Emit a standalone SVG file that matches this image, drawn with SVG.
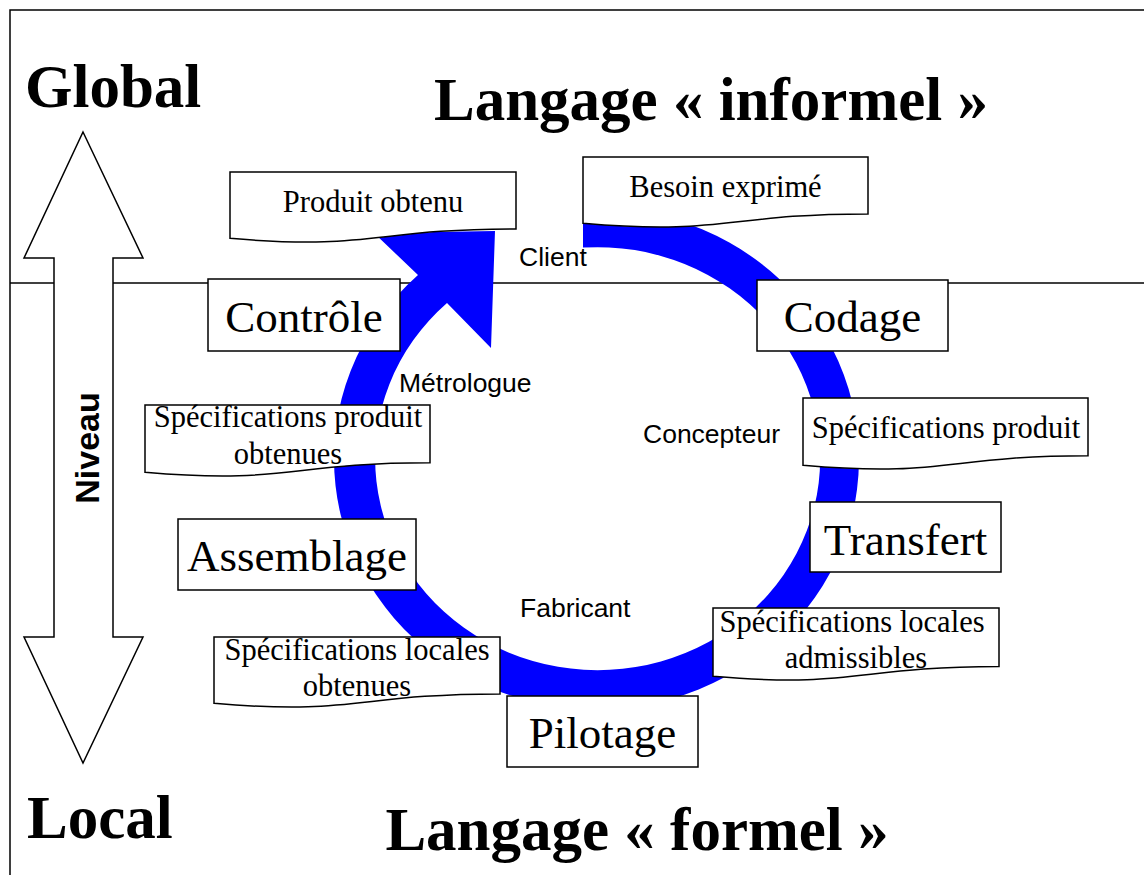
<svg xmlns="http://www.w3.org/2000/svg" width="1144" height="875" viewBox="0 0 1144 875">
<style>
.frame{fill:none;stroke:#000;stroke-width:1.5}
.box{fill:#fff;stroke:#000;stroke-width:1.5}
.serif{font-family:"Liberation Serif","Times New Roman",serif;fill:#000}
.big{font-size:45px;text-anchor:middle}
.doc{font-size:30.5px;text-anchor:middle}
.title{font-size:61px;font-weight:bold}
.role{font-family:"Liberation Sans",Arial,sans-serif;font-size:26.5px;fill:#000}
</style>
<rect width="1144" height="875" fill="#fff"/>
<g id="frame">
<path class="frame" d="M10 875 V10 H1144"/>
<path class="frame" d="M10 283 H1144"/>
</g>
<g id="niveau-arrow">
<polygon class="box" points="83,132 143,258 113,258 113,637 143,637 83,763 24,637 54,637 54,258 24,258"/>
<text transform="translate(99,448) rotate(-90)" text-anchor="middle" style="font-family:'Liberation Sans',Arial,sans-serif;font-weight:bold;font-size:34px">Niveau</text>
</g>
<g id="connectors">
<path id="cycle" fill="#0000ff" d="M583 208.5 A262.5 250.5 0 1 1 418 275 L374 233 L495 231 L491 348 L447 303 A222.5 211.5 0 1 0 583 247.6 Z"/>
</g>
<g id="controle"><rect class="box" x="208" y="279" width="192" height="72"/><text class="serif big" x="304" y="332">Contrôle</text></g>
<g id="codage"><rect class="box" x="757" y="280" width="191" height="71"/><text class="serif big" x="852.5" y="332">Codage</text></g>
<g id="transfert"><rect class="box" x="810" y="502" width="191" height="70"/><text class="serif big" x="905.5" y="555">Transfert</text></g>
<g id="assemblage"><rect class="box" x="178" y="519" width="238" height="71"/><text class="serif big" x="297" y="571">Assemblage</text></g>
<g id="pilotage"><rect class="box" x="507" y="696" width="191" height="71"/><text class="serif big" x="602.5" y="748">Pilotage</text></g>
<g id="produit-obtenu"><path class="box" d="M230 172 H516 V228.9 C373 228.9 373 250.6 230 238.3 Z"/><text class="serif doc" x="373" y="212">Produit obtenu</text></g>
<g id="besoin-exprime"><path class="box" d="M583 157 H868 V213.9 C725.5 213.9 725.5 235.6 583 223.3 Z"/><text class="serif doc" x="725.5" y="197">Besoin exprimé</text></g>
<g id="spec-produit"><path class="box" d="M803 398 H1088 V455.7 C945.5 455.7 945.5 477.7 803 465.2 Z"/><text class="serif doc" x="946" y="438">Spécifications produit</text></g>
<g id="spec-produit-obtenues"><path class="box" d="M145 405 H430 V462.7 C287.5 462.7 287.5 484.7 145 472.2 Z"/><text class="serif doc" x="288" y="427">Spécifications produit</text><text class="serif doc" x="288" y="464">obtenues</text></g>
<g id="spec-locales-admissibles"><path class="box" d="M713 608 H999 V666.5 C856 666.5 856 688.8 713 676.2 Z"/><text class="serif doc" x="852" y="632">Spécifications locales</text><text class="serif doc" x="856" y="668">admissibles</text></g>
<g id="spec-locales-obtenues"><path class="box" d="M214 637 H500 V693.9 C357 693.9 357 715.6 214 703.3 Z"/><text class="serif doc" x="357" y="660">Spécifications locales</text><text class="serif doc" x="357" y="696">obtenues</text></g>
<g id="roles">
<text class="role" x="519" y="266">Client</text>
<text class="role" x="399" y="392">Métrologue</text>
<text class="role" x="643" y="443">Concepteur</text>
<text class="role" x="520" y="617">Fabricant</text>
</g>
<g id="titles">
<text class="serif title" x="25" y="107">Global</text>
<text class="serif title" x="27" y="838">Local</text>
<text class="serif title" x="711" y="120" text-anchor="middle">Langage « informel »</text>
<text class="serif title" x="637" y="850" text-anchor="middle">Langage « formel »</text>
</g>
</svg>
